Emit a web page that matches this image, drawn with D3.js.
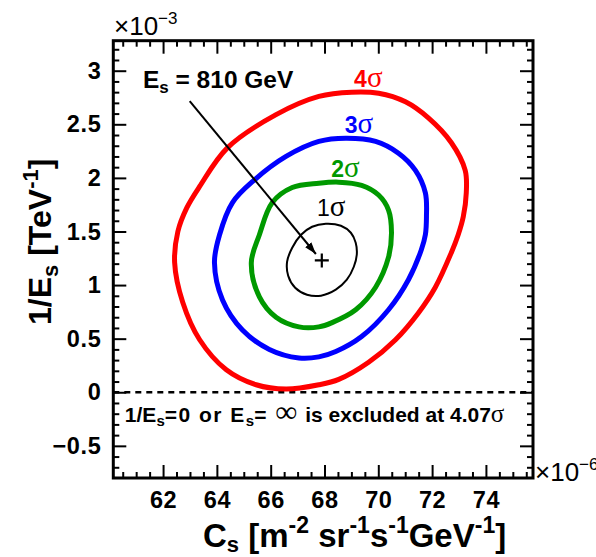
<!DOCTYPE html>
<html><head><meta charset="utf-8">
<script src="https://cdn.jsdelivr.net/npm/d3@7"></script>
<style>body{margin:0;background:#fff}</style>
</head><body>
<svg id="c" width="596" height="557" xmlns="http://www.w3.org/2000/svg"></svg>
<script>
// ---- data ----
const xMajorTicks = [62, 64, 66, 68, 70, 72, 74];
const yMajorTicks = [-0.5, 0, 0.5, 1, 1.5, 2, 2.5, 3];
const xDomain = [60.15, 75.75];
const yDomain = [-0.8, 3.28];
const bestFit = [67.9, 1.23]; // Cs (1e-6), 1/Es (1e-3 TeV^-1)
const contourNames = ["1σ", "2σ", "3σ", "4σ"];
const contourColors = ["#000000", "#009900", "#0000ff", "#ff0000"];
const contour1sigma = [[67.54,1.544],[68.05,1.572],[68.61,1.553],[68.98,1.488],[69.16,1.395],[69.20,1.283],[69.09,1.171],[68.83,1.050],[68.42,0.957],[67.87,0.901],[67.35,0.910],[66.91,0.975],[66.65,1.087],[66.61,1.218],[66.80,1.348],[67.13,1.469]];
const contour2sigma = [[65.28,1.21],[65.58,1.47],[66.06,1.77],[66.80,1.91],[67.79,1.95],[68.53,1.96],[69.38,1.93],[70.01,1.84],[70.38,1.70],[70.49,1.49],[70.38,1.26],[69.90,0.98],[69.16,0.77],[68.28,0.65],[67.79,0.61],[67.05,0.61],[66.20,0.70],[65.58,0.89]];
const contour3sigma = [[63.91,1.21],[64.10,1.47],[64.58,1.77],[65.39,1.98],[66.57,2.20],[67.79,2.34],[68.79,2.37],[69.90,2.34],[70.75,2.23],[71.38,2.07],[71.75,1.86],[71.79,1.64],[71.75,1.47],[71.60,1.33],[71.12,1.05],[70.38,0.77],[69.38,0.52],[68.42,0.38],[67.79,0.33],[67.05,0.32],[65.95,0.40],[64.95,0.58],[64.21,0.86]];
const contour4sigma = [[62.43,1.21],[62.55,1.50],[62.88,1.72],[63.36,1.92],[64.39,2.28],[66.20,2.59],[67.79,2.76],[69.01,2.80],[70.01,2.79],[71.01,2.71],[71.86,2.56],[72.71,2.33],[73.23,2.07],[73.27,1.86],[73.16,1.64],[72.97,1.47],[72.71,1.30],[72.12,0.98],[71.49,0.74],[70.64,0.49],[69.64,0.28],[68.53,0.12],[67.79,0.07],[66.57,0.03],[65.46,0.07],[64.35,0.21],[63.36,0.49],[62.73,0.84]];
const contours = [contour1sigma, contour2sigma, contour3sigma, contour4sigma];
const contourLabelPos = [[67.72,1.644],[68.25,2.008],[68.75,2.419],[69.10,2.848]];
const arrowFrom = [62.99, 2.717];
const arrowTo = [67.68, 1.29];
const fitLabelPos = [61.25, 2.839];
const exclLabelPos = [60.58, -0.273];

// ---- drawing ----
const svg = d3.select("#c");
const x = d3.scaleLinear().domain(xDomain).range([113.3, 533]);
const y = d3.scaleLinear().domain(yDomain).range([478, 40.7]);
const H = "'Liberation Sans', Arial, Helvetica, sans-serif";
const SYM = "'Liberation Serif', 'Times New Roman', serif";

const xMinor = d3.range(60.5, 75.75, 0.5).filter(v => Math.abs(v/2 - Math.round(v/2)) > 1e-6);
const yMinor = d3.range(-0.7, 3.28, 0.1).map(v => +v.toFixed(2)).filter(v => Math.abs(v*2 - Math.round(v*2)) > 1e-6);

function styleAxis(g) {
  g.select(".domain").remove();
  g.selectAll(".tick line").attr("stroke", "#000").attr("stroke-width", 2);
  g.selectAll("text").attr("font-family", H).attr("font-weight", "bold").attr("font-size", 23.5)
    .attr("letter-spacing", 0.6).attr("fill", "#000");
}
// bottom
svg.append("g").attr("transform", `translate(0,${y.range()[0]})`)
  .call(d3.axisBottom(x).tickValues(xMajorTicks).tickSize(-13).tickPadding(13).tickFormat(d3.format("d"))).call(styleAxis);
svg.append("g").attr("transform", `translate(0,${y.range()[0]})`)
  .call(d3.axisBottom(x).tickValues(xMinor).tickSize(-6).tickFormat("")).call(styleAxis);
// top
svg.append("g").attr("transform", `translate(0,${y.range()[1]})`)
  .call(d3.axisTop(x).tickValues(xMajorTicks).tickSize(-13).tickFormat("")).call(styleAxis);
svg.append("g").attr("transform", `translate(0,${y.range()[1]})`)
  .call(d3.axisTop(x).tickValues(xMinor).tickSize(-6).tickFormat("")).call(styleAxis);
// left
svg.append("g").attr("transform", `translate(${x.range()[0]},0)`)
  .call(d3.axisLeft(y).tickValues(yMajorTicks).tickSize(-13).tickPadding(12).tickFormat(d3.format("~g"))).call(styleAxis);
svg.append("g").attr("transform", `translate(${x.range()[0]},0)`)
  .call(d3.axisLeft(y).tickValues(yMinor).tickSize(-6).tickFormat("")).call(styleAxis);
// right
svg.append("g").attr("transform", `translate(${x.range()[1]},0)`)
  .call(d3.axisRight(y).tickValues(yMajorTicks).tickSize(-13).tickFormat("")).call(styleAxis);
svg.append("g").attr("transform", `translate(${x.range()[1]},0)`)
  .call(d3.axisRight(y).tickValues(yMinor).tickSize(-6).tickFormat("")).call(styleAxis);

// zero dashed line
svg.append("line").attr("x1", x.range()[0]).attr("x2", x.range()[1]).attr("y1", y(0)).attr("y2", y(0))
  .attr("stroke", "#000").attr("stroke-width", 2.5).attr("stroke-dasharray", "6,5");

// contours
const line = d3.line().x(d => x(d[0])).y(d => y(d[1])).curve(d3.curveCatmullRomClosed.alpha(0.5));
contours.forEach((c, i) => {
  svg.append("path").attr("d", line(c)).attr("fill", "none")
    .attr("stroke", contourColors[i]).attr("stroke-width", i === 0 ? 2 : 5).attr("stroke-linejoin", "round");
});

// contour labels
contourNames.forEach((n, i) => {
  const t = svg.append("text").attr("x", x(contourLabelPos[i][0])).attr("y", y(contourLabelPos[i][1]))
    .attr("fill", contourColors[i]).attr("font-size", 23);
  t.append("tspan").attr("font-family", H).attr("font-weight", i === 0 ? "normal" : "bold").text(n.slice(0, 1));
  t.append("tspan").attr("font-family", SYM).attr("font-size", 29).text("σ");
});

// best fit cross
const bx = x(bestFit[0]), by = y(bestFit[1]);
svg.append("path").attr("d", `M${bx-7},${by}H${bx+7}M${bx},${by-7}V${by+7}`).attr("stroke", "#000").attr("stroke-width", 2.2);

// arrow
const defs = svg.append("defs");
defs.append("marker").attr("id", "ah").attr("viewBox", "0 0 12 8").attr("refX", 12).attr("refY", 4)
  .attr("markerWidth", 12).attr("markerHeight", 8).attr("markerUnits", "userSpaceOnUse").attr("orient", "auto")
  .append("path").attr("d", "M0,0L12,4L0,8Z").attr("fill", "#000");
svg.append("line").attr("x1", x(arrowFrom[0])).attr("y1", y(arrowFrom[1])).attr("x2", x(arrowTo[0])).attr("y2", y(arrowTo[1]))
  .attr("stroke", "#000").attr("stroke-width", 2).attr("marker-end", "url(#ah)");

// Es label
const fl = svg.append("text").attr("x", x(fitLabelPos[0])).attr("y", y(fitLabelPos[1]))
  .attr("font-family", H).attr("font-weight", "bold").attr("font-size", 24.5);
fl.append("tspan").text("E");
fl.append("tspan").attr("font-size", 17).attr("dy", 5).text("s");
fl.append("tspan").attr("dy", -5).text(" = 810 GeV");

// exclusion label
const el = svg.append("text").attr("x", x(exclLabelPos[0])).attr("y", y(exclLabelPos[1]))
  .attr("font-family", H).attr("font-weight", "bold").attr("font-size", 21);
el.append("tspan").text("1/E");
el.append("tspan").attr("font-size", 15).attr("dy", 4).text("s");
el.append("tspan").attr("dy", -4).attr("letter-spacing", 1.5).text("=0 or E");
el.append("tspan").attr("font-size", 15).attr("dy", 4).text("s");
el.append("tspan").attr("dy", -4).attr("letter-spacing", 1.5).text("= ");
el.append("tspan").attr("font-family", SYM).attr("font-weight", "normal").attr("font-size", 31).attr("letter-spacing", 2).text("∞");
el.append("tspan").text(" is excluded at 4.07");
el.append("tspan").attr("font-family", SYM).attr("font-weight", "normal").attr("font-size", 25).text("σ");

// frame
svg.append("rect").attr("x", x.range()[0]).attr("y", y.range()[1])
  .attr("width", x.range()[1] - x.range()[0]).attr("height", y.range()[0] - y.range()[1])
  .attr("fill", "none").attr("stroke", "#000").attr("stroke-width", 3);

// exponents
function expo(px, py, e) {
  const t = svg.append("text").attr("x", px).attr("y", py).attr("font-family", H).attr("font-size", 26);
  t.append("tspan").text("×10");
  t.append("tspan").attr("font-size", 17).attr("dy", -11).text(e);
}
expo(114, 35, "−3");
expo(535, 481, "−6");

// axis titles
const xt = svg.append("text").attr("x", 203).attr("y", 547).attr("font-family", H).attr("font-weight", "bold").attr("font-size", 33);
xt.append("tspan").text("C");
xt.append("tspan").attr("font-size", 22).attr("dy", 5).text("s");
xt.append("tspan").attr("dy", -5).text(" [m");
xt.append("tspan").attr("font-size", 23).attr("dy", -14).text("-2");
xt.append("tspan").attr("dy", 14).text(" sr");
xt.append("tspan").attr("font-size", 23).attr("dy", -14).text("-1");
xt.append("tspan").attr("dy", 14).text("s");
xt.append("tspan").attr("font-size", 23).attr("dy", -14).text("-1");
xt.append("tspan").attr("dy", 14).text("GeV");
xt.append("tspan").attr("font-size", 23).attr("dy", -14).text("-1");
xt.append("tspan").attr("dy", 14).text("]");

const yt = svg.append("text").attr("transform", "translate(51,325) rotate(-90)")
  .attr("font-family", H).attr("font-weight", "bold").attr("font-size", 32);
yt.append("tspan").text("1/E");
yt.append("tspan").attr("font-size", 22).attr("dy", 7).text("s");
yt.append("tspan").attr("dy", -7).text("  [TeV");
yt.append("tspan").attr("font-size", 22).attr("dy", -13).text("-1");
yt.append("tspan").attr("dy", 13).text("]");
</script>
</body></html>
